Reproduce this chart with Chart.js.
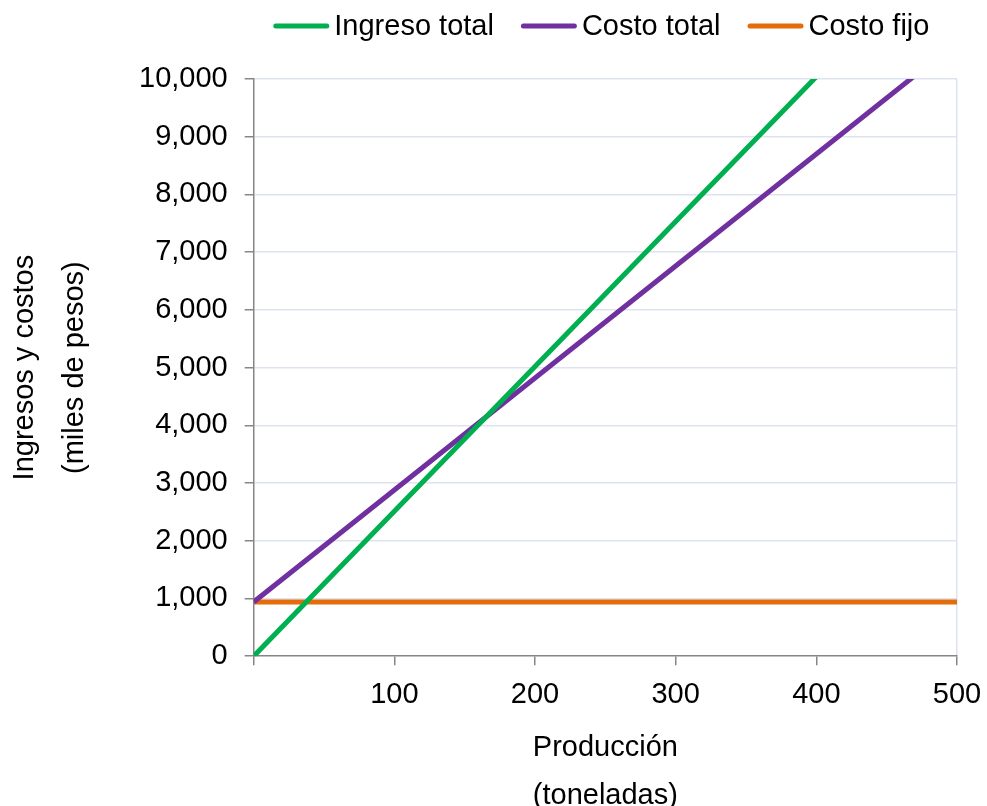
<!DOCTYPE html>
<html>
<head>
<meta charset="utf-8">
<script src="https://cdn.jsdelivr.net/npm/chart.js@4"></script>
<style>
  html, body { margin: 0; padding: 0; background: #ffffff; }
  #wrap { width: 987px; height: 806px; }
</style>
</head>
<body>
<div id="wrap"><canvas id="c" width="987" height="806"></canvas></div>
<script>
// Producción (toneladas)
const produccion = [0, 100, 200, 300, 400, 500];
// Ingresos y costos (miles de pesos)
const ingresoTotal = [0, 2510, 5020, 7530, 10040, 12550];
const costoTotal = [940, 2880, 4820, 6760, 8700, 10640];
const costoFijo = [940, 940, 940, 940, 940, 940];
const yTicks = [0, 1000, 2000, 3000, 4000, 5000, 6000, 7000, 8000, 9000, 10000];
const xTicks = [0, 100, 200, 300, 400, 500];

const FONT = "'Liberation Sans', Arial, sans-serif";
const FS = 29;
const toPoints = (vals) => produccion.map((x, i) => ({ x: x, y: vals[i] }));

// Legend row above the plot: short round-capped line swatch followed by the label
const lineLegend = {
  id: 'lineLegend',
  afterDraw(chart) {
    const ctx = chart.ctx;
    const area = chart.chartArea;
    const swatch = 56, gapText = 5, gapItem = 27, yMid = 26;
    ctx.save();
    ctx.font = FS + 'px ' + FONT;
    const items = chart.data.datasets.map(ds => ({
      label: ds.label, color: ds.borderColor, w: ctx.measureText(ds.label).width
    }));
    const total = items.reduce((s, it) => s + swatch + gapText + it.w, 0) + gapItem * (items.length - 1);
    let x = (area.left + area.right) / 2 - 4 - total / 2;
    items.forEach(it => {
      ctx.strokeStyle = it.color;
      ctx.lineWidth = 5;
      ctx.lineCap = 'round';
      ctx.beginPath();
      ctx.moveTo(x + 2.5, yMid);
      ctx.lineTo(x + swatch - 2.5, yMid);
      ctx.stroke();
      ctx.fillStyle = '#000000';
      ctx.textBaseline = 'middle';
      ctx.textAlign = 'left';
      ctx.fillText(it.label, x + swatch + gapText, yMid + 1);
      x += swatch + gapText + it.w + gapItem;
    });
    ctx.restore();
  }
};

new Chart(document.getElementById('c'), {
  type: 'line',
  data: {
    datasets: [
      { label: 'Ingreso total', data: toPoints(ingresoTotal), borderColor: '#00b050', backgroundColor: '#00b050' },
      { label: 'Costo total', data: toPoints(costoTotal), borderColor: '#7030a0', backgroundColor: '#7030a0' },
      { label: 'Costo fijo', data: toPoints(costoFijo), borderColor: '#e46c0a', backgroundColor: '#e46c0a' }
    ]
  },
  plugins: [lineLegend],
  options: {
    responsive: false,
    animation: false,
    devicePixelRatio: 1,
    layout: { padding: { left: 0, right: 23, top: 79, bottom: 0 } },
    elements: {
      line: { borderWidth: 5, tension: 0, borderCapStyle: 'butt' },
      point: { radius: 0, hoverRadius: 0 }
    },
    datasets: { line: { clip: 0 } },
    plugins: {
      legend: { display: false },
      tooltip: { enabled: false }
    },
    scales: {
      x: {
        type: 'linear',
        min: 0,
        max: 500,
        afterBuildTicks: (axis) => { axis.ticks = xTicks.map(v => ({ value: v })); },
        // let the last label ("500") hang past the plot's right edge
        afterFit: (axis) => { axis.paddingRight = 30; },
        border: { display: true, color: '#868686', width: 1.5 },
        grid: {
          drawOnChartArea: true,
          color: (ctx) => (ctx.tick && ctx.tick.value === 500 ? '#dde4ef' : 'rgba(0,0,0,0)'),
          tickColor: '#868686',
          tickLength: 9,
          lineWidth: 1.5
        },
        ticks: {
          font: { family: FONT, size: FS },
          color: '#000000',
          padding: 12,
          maxRotation: 0,
          callback: (v) => (v === 0 ? '' : String(v))
        },
        title: {
          display: true,
          text: ['Producción', '(toneladas)'],
          font: { family: FONT, size: FS, lineHeight: 48 / FS },
          color: '#000000',
          padding: { top: 0, bottom: -14 }
        }
      },
      y: {
        type: 'linear',
        min: 0,
        max: 10000,
        afterBuildTicks: (axis) => { axis.ticks = yTicks.map(v => ({ value: v })); },
        border: { display: true, color: '#868686', width: 1.5 },
        grid: {
          color: (ctx) => (ctx.tick && ctx.tick.value === 0 ? 'rgba(0,0,0,0)' : '#dde4ef'),
          tickColor: '#868686',
          tickLength: 9,
          lineWidth: 1.5
        },
        ticks: {
          font: { family: FONT, size: FS },
          color: '#000000',
          padding: 17,
          callback: (v) => v.toLocaleString('en-US')
        },
        title: {
          display: true,
          text: ['Ingresos y costos', '(miles de pesos)'],
          font: { family: FONT, size: FS, lineHeight: 50 / FS },
          color: '#000000',
          padding: { top: 0, bottom: 22 }
        }
      }
    }
  }
});
</script>
</body>
</html>
